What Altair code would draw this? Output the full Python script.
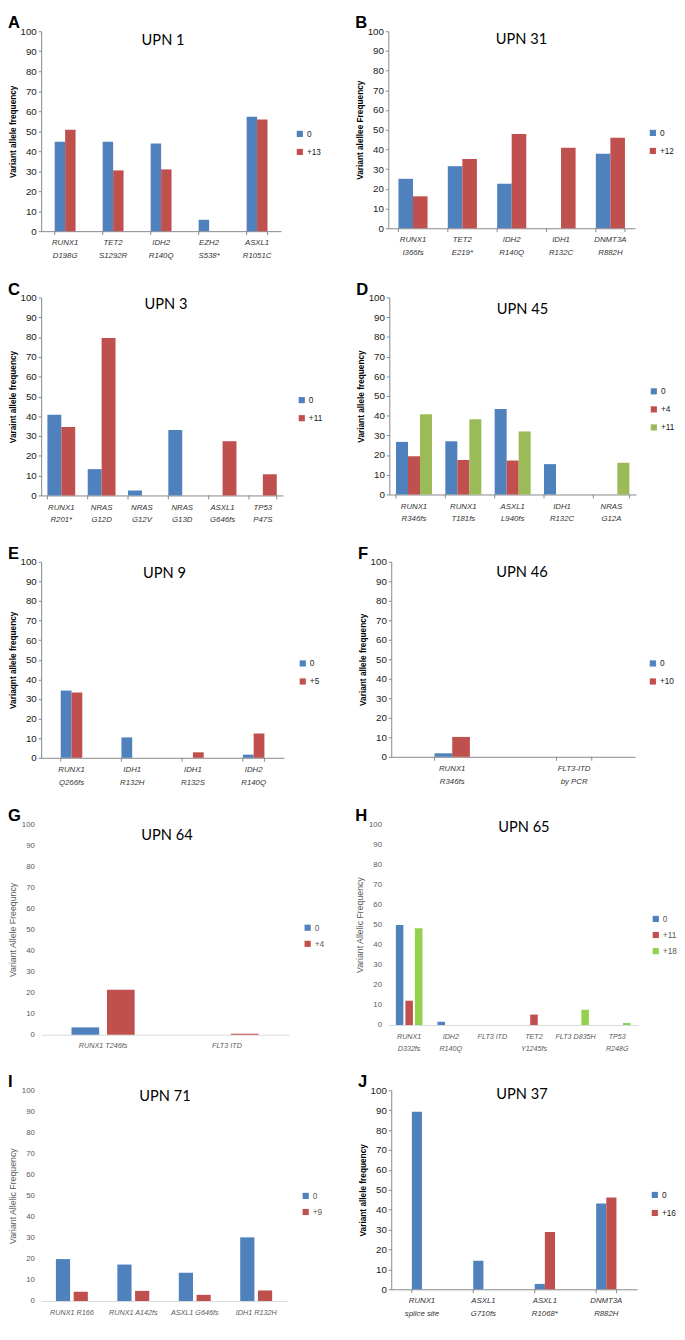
import altair as alt
import pandas as pd

BLUE = "#4F81BD"
RED = "#C0504D"
GREEN = "#9BBB59"
GREEN2 = "#92D050"

# ---------------- data ----------------
A_cats = ["RUNX1|D198G", "TET2|S1292R", "IDH2|R140Q", "EZH2|S538*", "ASXL1|R1051C"]
A_series = ["0", "+13"]
A_v0 = [44.7, 44.7, 43.9, 5.7, 57.2]
A_v1 = [50.7, 30.4, 30.9, 0, 55.8]

B_cats = ["RUNX1|I366fs", "TET2|E219*", "IDH2|R140Q", "IDH1|R132C", "DNMT3A|R882H"]
B_series = ["0", "+12"]
B_v0 = [25.1, 31.5, 22.6, 0, 37.8]
B_v1 = [16.2, 35.1, 47.9, 40.9, 46.0]

C_cats = ["RUNX1|R201*", "NRAS|G12D", "NRAS|G12V", "NRAS|G13D", "ASXL1|G646fs", "TP53|P47S"]
C_series = ["0", "+11"]
C_v0 = [40.8, 13.3, 2.5, 33.1, 0, 0]
C_v1 = [34.6, 79.5, 0, 0, 27.4, 10.7]

D_cats = ["RUNX1|R346fs", "RUNX1|T181fs", "ASXL1|L940fs", "IDH1|R132C", "NRAS|G12A"]
D_series = ["0", "+4", "+11"]
D_v0 = [26.7, 27.0, 43.4, 15.4, 0]
D_v1 = [19.4, 17.5, 17.2, 0, 0]
D_v2 = [40.7, 38.2, 32.0, 0, 16.1]

E_cats = ["RUNX1|Q266fs", "IDH1|R132H", "IDH1|R132S", "IDH2|R140Q"]
E_series = ["0", "+5"]
E_v0 = [34.3, 10.4, 0, 1.6]
E_v1 = [33.3, 0, 2.8, 12.4]

F_cats = ["RUNX1|R346fs", "FLT3-ITD|by PCR"]
F_series = ["0", "+10"]
F_v0 = [1.8, 0]
F_v1 = [10.2, 0]

G_cats = ["RUNX1 T246fs", "FLT3 ITD"]
G_series = ["0", "+4"]
G_v0 = [3.5, 0]
G_v1 = [21.4, 0.5]

H_cats = ["RUNX1|D332fs", "IDH2|R140Q", "FLT3 ITD", "TET2|Y1245fs", "FLT3 D835H", "TP53|R248G"]
H_series = ["0", "+11", "+18"]
H_v0 = [49.8, 1.6, 0, 0, 0, 0]
H_v1 = [12.1, 0, 0, 5.2, 0, 0]
H_v2 = [48.2, 0, 0, 0, 7.6, 1.0]

I_cats = ["RUNX1 R166", "RUNX1 A142fs", "ASXL1 G646fs", "IDH1 R132H"]
I_series = ["0", "+9"]
I_v0 = [19.9, 17.3, 13.4, 30.2]
I_v1 = [4.4, 4.8, 2.9, 5.0]

J_cats = ["RUNX1|splice site", "ASXL1|G710fs", "ASXL1|R1068*", "DNMT3A|R882H"]
J_series = ["0", "+16"]
J_v0 = [89.3, 14.4, 2.7, 43.1]
J_v1 = [0, 0, 28.8, 46.2]

Y_TICKS = list(range(0, 101, 10))
FONT = "Liberation Sans"


def panel(letter, upn, cats, series, vals, colors, w, h, ytitle, modern,
          pin, offpad, tdx, tdy, legcy, xfs, legdx=15):
    rows = []
    for s, vv in zip(series, vals):
        for c, v in zip(cats, vv):
            rows.append({"cat": c, "series": s, "value": v})
    df = pd.DataFrame(rows)

    if modern:
        yaxis = alt.Axis(values=Y_TICKS, grid=False, domain=False, ticks=False,
                         labelFontSize=8, labelColor="#595959", labelPadding=7,
                         title=ytitle, titleFontSize=9, titleFontWeight="normal",
                         titleColor="#595959", titlePadding=4)
        xdom = "#D9D9D9"
        xlabc = "#595959"
        legc = "#595959"
        rowpad = 7.5
        lpad = 7.5
    else:
        yaxis = alt.Axis(values=Y_TICKS, grid=False, domain=True, domainColor="#868686",
                         ticks=True, tickSize=3, tickColor="#868686",
                         labelFontSize=10, labelColor="#1a1a1a", labelPadding=2,
                         title=ytitle, titleFontSize=8.5, titleFontWeight="bold",
                         titleColor="#000000", titlePadding=3)
        xdom = "#868686"
        xlabc = "#333333"
        legc = "#1a1a1a"
        rowpad = 9.5
        lpad = 8

    xaxis = alt.Axis(title=None, labelAngle=0, labelExpr="split(datum.label, '|')",
                     ticks=False, domainColor=xdom, labelFontStyle="italic",
                     labelFontSize=xfs, labelColor=xlabc, labelPadding=lpad,
                     labelLineHeight=13, labelOverlap=False)

    bars = alt.Chart(df).mark_bar().encode(
        x=alt.X("cat:N", sort=cats, axis=xaxis,
                scale=alt.Scale(paddingInner=pin, paddingOuter=pin / 2)),
        xOffset=alt.XOffset("series:N", sort=series,
                            scale=alt.Scale(domain=series, paddingInner=offpad, paddingOuter=0)),
        y=alt.Y("value:Q", axis=yaxis, scale=alt.Scale(domain=[0, 100], nice=False)),
        color=alt.Color("series:N", sort=series,
                        scale=alt.Scale(domain=series, range=colors),
                        legend=alt.Legend(title=None, orient="none", legendX=w + legdx,
                                          legendY=legcy - 5, symbolType="square",
                                          symbolSize=40, symbolStrokeWidth=0,
                                          labelFontSize=8.5, labelColor=legc,
                                          labelFont=FONT, rowPadding=rowpad,
                                          labelOffset=3)),
    )

    layers = [bars]
    if not modern:
        tick_df = pd.DataFrame({"cat": cats})
        ticks0 = alt.Chart(tick_df).mark_rule(color="#868686").encode(
            x=alt.X("cat:N", sort=cats, bandPosition=0),
            y=alt.value(h), y2=alt.value(h + 4))
        ticks1 = alt.Chart(pd.DataFrame({"cat": [cats[-1]]})).mark_rule(color="#868686").encode(
            x=alt.X("cat:N", sort=cats, bandPosition=1),
            y=alt.value(h), y2=alt.value(h + 4))
        layers += [ticks0, ticks1]

    ttl = alt.Chart(pd.DataFrame({"t": [upn]})).mark_text(
        font="Lato", fontSize=15, color="black", baseline="alphabetic", align="center"
    ).encode(x=alt.value(w / 2 + tdx), y=alt.value(tdy + 5.5), text="t:N")
    let = alt.Chart(pd.DataFrame({"t": [letter]})).mark_text(
        font=FONT, fontSize=17, fontWeight="bold", color="black",
        baseline="alphabetic", align="left"
    ).encode(x=alt.value(-34), y=alt.value(-3), text="t:N")
    layers += [ttl, let]

    return alt.layer(*layers).properties(width=w, height=h)


pA = panel("A", "UPN 1", A_cats, A_series, [A_v0, A_v1], [BLUE, RED], 246, 205,
           "Variant allele frequency", False, 0.565, 0, 2, 9, 106, 8)
pB = panel("B", "UPN 31", B_cats, B_series, [B_v0, B_v1], [BLUE, RED], 253, 202,
           "Variant alellee Frequency", False, 0.41, 0, 10, 8, 105, 8, 14)
pC = panel("C", "UPN 3", C_cats, C_series, [C_v0, C_v1], [BLUE, RED], 248, 203,
           "Varaint allele frequency", False, 0.31, 0, 4, 6, 106, 8)
pD = panel("D", "UPN 45", D_cats, D_series, [D_v0, D_v1, D_v2], [BLUE, RED, GREEN], 253, 202,
           "Variant allele frequency", False, 0.27, 0, 10, 11, 97, 8, 14)
pE = panel("E", "UPN 9", E_cats, E_series, [E_v0, E_v1], [BLUE, RED], 249, 201,
           "Variaqnt allele frequency", False, 0.645, 0, 2, 11, 105, 8)
pF = panel("F", "UPN 46", F_cats, F_series, [F_v0, F_v1], [BLUE, RED], 250, 200,
           "Variant allele frequency", False, 0.71, 0, 9, 10, 105, 8, 14)
pG = panel("G", "UPN 64", G_cats, G_series, [G_v0, G_v1], [BLUE, RED], 254, 216,
           "Variant Allele Freequncy", True, 0.49, 0.22, 2, 11, 107, 7.4)
pH = panel("H", "UPN 65", H_cats, H_series, [H_v0, H_v1, H_v2], [BLUE, RED, GREEN2], 256, 206,
           "Variant Allelic  Frequency", True, 0.36, 0.21, 11, 3, 98, 7.3, 14)
pI = panel("I", "UPN 71", I_cats, I_series, [I_v0, I_v1], [BLUE, RED], 252, 216,
           "Variant Allelic Frequency", True, 0.48, 0.2, 1, 5, 109, 7.4)
pJ = panel("J", "UPN 37", J_cats, J_series, [J_v0, J_v1], [BLUE, RED], 252, 204,
           "Variant allele frequency", False, 0.67, 0, 8, 3, 108, 8, 14)


def row(a, b, sp):
    return alt.hconcat(a, b, spacing=sp).resolve_scale(
        color="independent", xOffset="independent")


chart = alt.vconcat(
    row(pA, pB, 35),
    row(pC, pD, 34),
    row(pE, pF, 39),
    row(pG, pH, 31),
    row(pI, pJ, 36),
    spacing=22,
).resolve_scale(color="independent", xOffset="independent").properties(
    padding={"top": -10, "left": 0, "right": 0, "bottom": 0}
).configure_view(
    stroke=None
).configure_axis(labelFont=FONT, titleFont=FONT).configure_legend(labelFont=FONT)

chart.save("out.html", embed_options={"renderer": "svg", "actions": False})
